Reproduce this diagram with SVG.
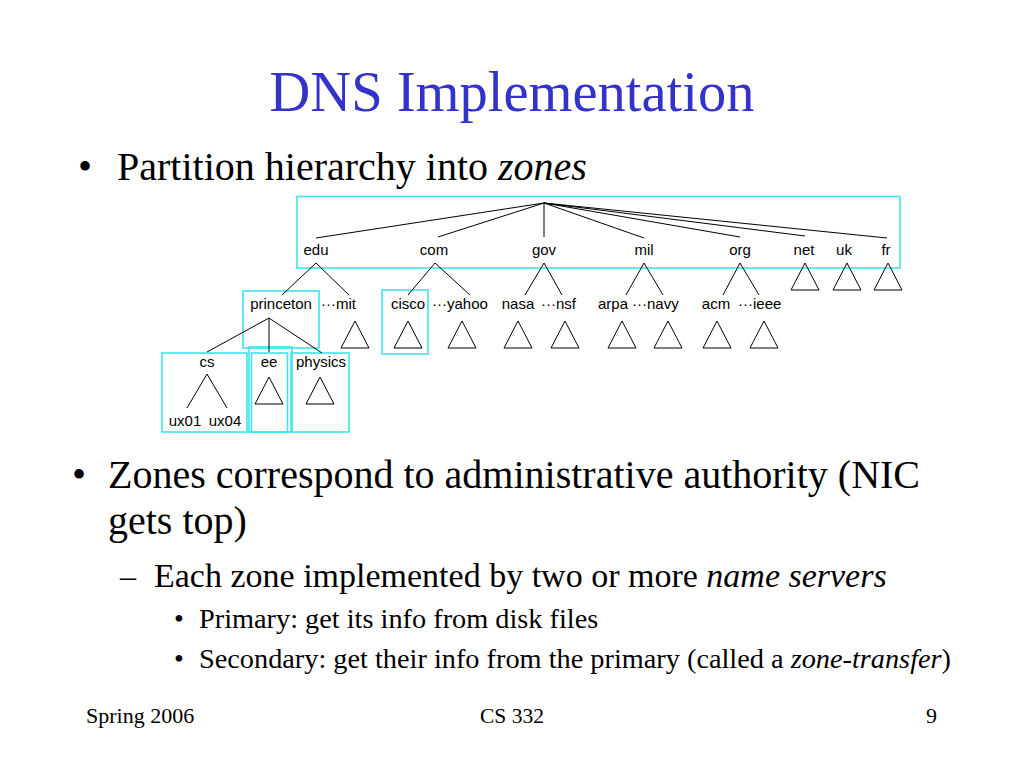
<svg xmlns="http://www.w3.org/2000/svg" width="1024" height="768" viewBox="0 0 1024 768">
<style>
.serif{font-family:"Liberation Serif","Times New Roman",serif;fill:#000}
.title{font-family:"Liberation Serif","Times New Roman",serif;fill:#3333CC;font-size:56.5px}
.lbl{font-family:"Liberation Sans",Arial,sans-serif;font-size:15px;fill:#000}
.mid{text-anchor:middle}
.zone{fill:none;stroke:#3EE4EE;stroke-width:1.6}
.edge{stroke:#000;stroke-width:1;fill:none}
.tri{fill:none;stroke:#000;stroke-width:1}
</style>
<rect width="1024" height="768" fill="#fff"/>
<text class="title mid" x="512" y="111">DNS Implementation</text>
<text class="serif" x="78" y="180" font-size="40">•</text>
<text class="serif" x="117" y="180" font-size="40">Partition hierarchy into <tspan font-style="italic">zones</tspan></text>

<g id="zones">
<rect class="zone" x="297" y="196.5" width="603" height="71.5"/>
<rect class="zone" x="243" y="291" width="76" height="57"/>
<rect class="zone" x="382" y="290" width="46" height="64"/>
<rect class="zone" x="162" y="353" width="85" height="79"/>
<rect class="zone" x="249" y="347" width="43" height="85"/>
<rect class="zone" x="251.5" y="353" width="36" height="79" stroke-width="2.2" stroke="#2CD6E0"/>
<rect class="zone" x="291" y="353" width="58" height="79"/>
</g>

<g id="connectors">
<path class="edge" d="M544 203L316 238M544 203L438 237M544 203L544 237M544 203L644 238M544 203L740 237M544 203L805 236M544 203L887 238"/>
<path class="edge" d="M316 263L282 295M316 263L349 295M435 263L408 295M435 263L470 295M544 263L525 295M544 263L562 295M644 263L626 295M644 263L663 295M740 263L723 295M740 263L759 295"/>
<path class="edge" d="M269 318L207 352M269 318L269 352M269 318L322 353M207 374L187 408M207 374L227 408"/>
</g>

<g id="root-labels">
<text class="lbl mid" x="316" y="255">edu</text>
<text class="lbl mid" x="434" y="255">com</text>
<text class="lbl mid" x="544" y="255">gov</text>
<text class="lbl mid" x="644" y="255">mil</text>
<text class="lbl mid" x="740" y="255">org</text>
<text class="lbl mid" x="804" y="255">net</text>
<text class="lbl mid" x="844" y="255">uk</text>
<text class="lbl mid" x="886" y="255">fr</text>
</g>
<g id="top-triangles">
<path class="tri" d="M805 263L819 290L791 290Z"/>
<path class="tri" d="M847 263L861 290L833 290Z"/>
<path class="tri" d="M888 263L902 290L874 290Z"/>
</g>
<g id="level2-labels">
<text class="lbl mid" x="281" y="309">princeton</text>
<text class="lbl" x="321" y="309">···mit</text>
<text class="lbl mid" x="408" y="309">cisco</text>
<text class="lbl" x="432" y="309">···yahoo</text>
<text class="lbl mid" x="518" y="309">nasa</text>
<text class="lbl" x="541" y="309">···nsf</text>
<text class="lbl mid" x="613" y="309">arpa</text>
<text class="lbl" x="632" y="309">···navy</text>
<text class="lbl mid" x="716" y="309">acm</text>
<text class="lbl" x="738" y="309">···ieee</text>
</g>
<g id="level2-triangles">
<path class="tri" d="M355 321L369 348L341 348Z"/>
<path class="tri" d="M408 321L422 348L394 348Z"/>
<path class="tri" d="M462 321L476 348L448 348Z"/>
<path class="tri" d="M518 321L532 348L504 348Z"/>
<path class="tri" d="M565 321L579 348L551 348Z"/>
<path class="tri" d="M622 321L636 348L608 348Z"/>
<path class="tri" d="M668 321L682 348L654 348Z"/>
<path class="tri" d="M717 321L731 348L703 348Z"/>
<path class="tri" d="M764 321L778 348L750 348Z"/>
</g>
<g id="level3">
<text class="lbl mid" x="207" y="367">cs</text>
<text class="lbl mid" x="269" y="367">ee</text>
<text class="lbl mid" x="321" y="367">physics</text>
<text class="lbl mid" x="185" y="426">ux01</text>
<text class="lbl mid" x="225" y="426">ux04</text>
<path class="tri" d="M269 377L283 404L255 404Z"/>
<path class="tri" d="M320 377L334 404L306 404Z"/>
</g>

<text class="serif" x="72" y="488" font-size="40">•</text>
<text class="serif" x="108" y="488" font-size="40">Zones correspond to administrative authority (NIC</text>
<text class="serif" x="108" y="534" font-size="40">gets top)</text>
<text class="serif" x="120" y="587" font-size="32">–</text>
<text class="serif" x="154" y="587" font-size="34">Each zone implemented by two or more <tspan font-style="italic">name servers</tspan></text>
<text class="serif" x="174" y="628" font-size="28">•</text>
<text class="serif" x="199" y="628" font-size="28.3">Primary: get its info from disk files</text>
<text class="serif" x="174" y="668" font-size="28">•</text>
<text class="serif" x="199" y="668" font-size="28.3">Secondary: get their info from the primary (called a <tspan font-style="italic">zone-transfer</tspan>)</text>

<text class="serif" x="86" y="723" font-size="22">Spring 2006</text>
<text class="serif mid" x="512" y="723" font-size="21.5">CS 332</text>
<text class="serif" x="937" y="723" font-size="22" text-anchor="end">9</text>
</svg>
